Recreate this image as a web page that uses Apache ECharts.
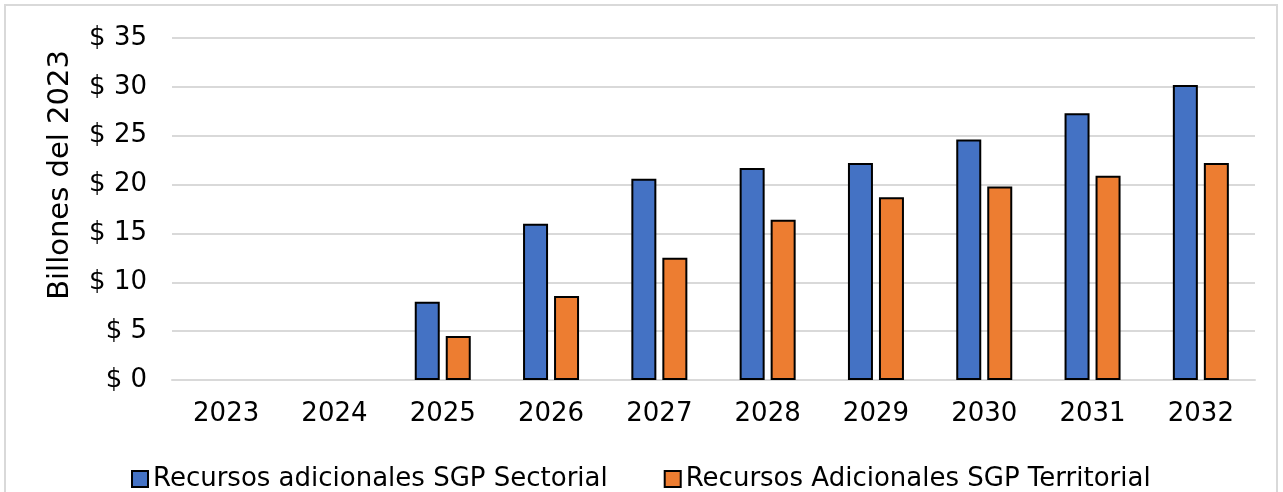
<!DOCTYPE html>
<html>
<head>
<meta charset="utf-8">
<script src="https://cdn.jsdelivr.net/npm/echarts@6/dist/echarts.min.js"></script>
<style>
  html, body { margin: 0; padding: 0; background: #fff; }
  #chart { width: 1283px; height: 492px; }
</style>
</head>
<body>
<div id="chart"></div>
<script>
// data
const years = ["2023", "2024", "2025", "2026", "2027", "2028", "2029", "2030", "2031", "2032"];
const sectorial = [0, 0, 8.0, 16.0, 20.6, 21.7, 22.2, 24.6, 27.3, 30.2];
const territorial = [0, 0, 4.5, 8.6, 12.5, 16.4, 18.7, 19.8, 20.9, 22.2];
const seriesNames = ["Recursos adicionales SGP Sectorial", "Recursos Adicionales SGP Territorial"];

const font = "DejaVu Sans";
const myChart = echarts.init(document.getElementById("chart"));

// zero bars are not drawn in the original
const hideZero = (arr) => arr.map((v) => (v === 0 ? null : v));

const option = {
  animation: false,
  textStyle: { fontFamily: font, color: "#000" },
  graphic: [
    {
      type: "rect",
      shape: { x: 5, y: 5, width: 1272, height: 500 },
      style: { fill: "none", stroke: "#d9d9d9", lineWidth: 2 },
      silent: true,
    },
  ],
  grid: { left: 172, right: 28, top: 38, bottom: 112 },
  legend: {
    top: 461,
    left: 126,
    itemGap: 56,
    itemWidth: 16,
    itemHeight: 16,
    icon: "rect",
    textStyle: { fontFamily: font, fontSize: 26, color: "#000" },
    data: seriesNames,
  },
  xAxis: {
    type: "category",
    data: years,
    axisLine: { show: true, lineStyle: { color: "#d9d9d9", width: 2 } },
    axisTick: { show: false },
    axisLabel: { fontFamily: font, fontSize: 26, color: "#000", margin: 21 },
  },
  yAxis: {
    type: "value",
    min: 0,
    max: 35,
    interval: 5,
    name: "Billones del 2023",
    nameLocation: "middle",
    nameGap: 97,
    // title sits above the plot centre in the original
    nameTextStyle: { fontFamily: font, fontSize: 29, color: "#000", padding: [0, 0, 0, 68] },
    axisLine: { show: false },
    axisTick: { show: false },
    axisLabel: {
      fontFamily: font,
      fontSize: 26,
      color: "#000",
      margin: 25,
      formatter: (v) => "$ " + v,
    },
    splitLine: { lineStyle: { color: "#d9d9d9", width: 2 } },
  },
  series: [
    {
      name: seriesNames[0],
      type: "bar",
      barWidth: 25,
      barGap: "24%",
      data: hideZero(sectorial),
      itemStyle: { color: "#4472c4", borderColor: "#000", borderWidth: 2 },
    },
    {
      name: seriesNames[1],
      type: "bar",
      barWidth: 25,
      data: hideZero(territorial),
      itemStyle: { color: "#ed7d31", borderColor: "#000", borderWidth: 2 },
    },
  ],
};

myChart.setOption(option);
</script>
</body>
</html>
